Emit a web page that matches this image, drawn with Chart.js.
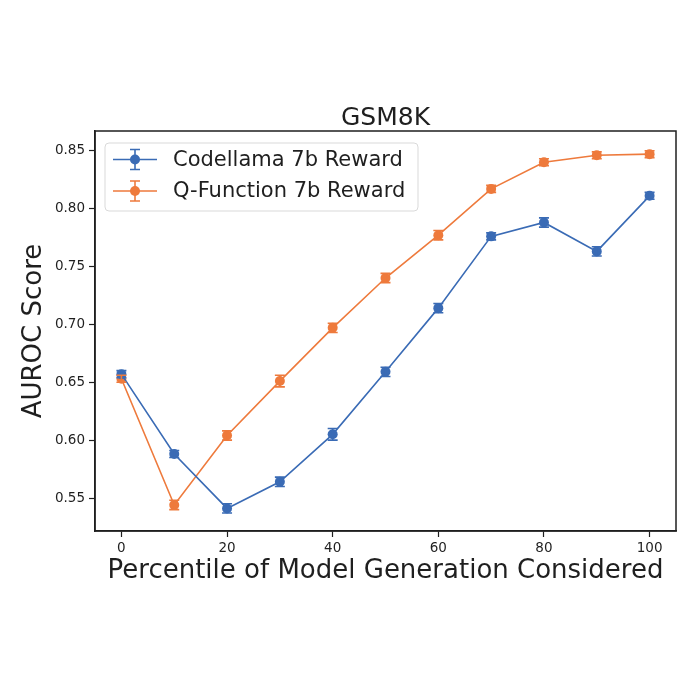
<!DOCTYPE html>
<html>
<head>
<meta charset="utf-8">
<script src="https://cdn.jsdelivr.net/npm/chart.js@4"></script>
<style>
  html, body { margin: 0; padding: 0; background: #fff; }
  #wrap { width: 700px; height: 700px; }
</style>
</head>
<body>
<div id="wrap"><canvas id="chart" width="700" height="700"></canvas></div>
<script>
const percentiles = [0, 10, 20, 30, 40, 50, 60, 70, 80, 90, 100];
const codellamaScores = [0.657, 0.588, 0.541, 0.564, 0.605, 0.659, 0.714, 0.776, 0.788, 0.763, 0.811];
const codellamaErr = [0.003, 0.003, 0.004, 0.004, 0.005, 0.004, 0.004, 0.003, 0.004, 0.004, 0.003];
const qfunctionScores = [0.653, 0.544, 0.604, 0.651, 0.697, 0.740, 0.777, 0.817, 0.840, 0.846, 0.847];
const qfunctionErr = [0.003, 0.004, 0.004, 0.005, 0.004, 0.004, 0.004, 0.003, 0.003, 0.003, 0.003];
const xTicks = [0, 20, 40, 60, 80, 100];
const yTicks = [0.55, 0.60, 0.65, 0.70, 0.75, 0.80, 0.85];
const seriesLabels = ["Codellama 7b Reward", "Q-Function 7b Reward"];
const chartTitle = "GSM8K";

const BLUE = "#3a6bb5";
const ORANGE = "#ee7a3c";
const AXIS = "#1f1f1f";
const FONT = "'DejaVu Sans', sans-serif";

Chart.defaults.font.family = FONT;
Chart.defaults.color = AXIS;

function toPoints(ys) {
   return percentiles.map((x, i) => ({ x: x, y: ys[i] }));
}

// error bars, drawn through the chart scales
const errorBars = {
   id: "errorBars",
   afterDatasetsDraw(chart) {
      const ctx = chart.ctx;
      const xs = chart.scales.x, ys = chart.scales.y;
      chart.data.datasets.forEach(ds => {
         ctx.save();
         ctx.strokeStyle = ds.borderColor;
         ctx.lineWidth = 1.6;
         ds.data.forEach((p, i) => {
            const e = ds.errors[i];
            const px = xs.getPixelForValue(p.x);
            const top = ys.getPixelForValue(p.y + e);
            const bot = ys.getPixelForValue(p.y - e);
            ctx.beginPath();
            ctx.moveTo(px, top); ctx.lineTo(px, bot);
            ctx.moveTo(px - 5, top); ctx.lineTo(px + 5, top);
            ctx.moveTo(px - 5, bot); ctx.lineTo(px + 5, bot);
            ctx.stroke();
         });
         ctx.restore();
      });
   }
};

// box frame, title over the plot, legend inside the plot
const frameAndLegend = {
   id: "frameAndLegend",
   afterDraw(chart) {
      const ctx = chart.ctx;
      const a = chart.chartArea;
      ctx.save();
      ctx.strokeStyle = AXIS;
      ctx.lineWidth = 1.5;
      ctx.strokeRect(a.left, a.top, a.right - a.left, a.bottom - a.top);

      ctx.fillStyle = AXIS;
      ctx.font = "25px " + FONT;
      ctx.textAlign = "center";
      ctx.textBaseline = "alphabetic";
      ctx.fillText(chartTitle, (a.left + a.right) / 2, a.top - 6);
      ctx.textAlign = "left";

      // legend
      const bx = a.left + 10, by = a.top + 12, bw = 313, bh = 68;
      ctx.beginPath();
      ctx.roundRect(bx, by, bw, bh, 4);
      ctx.fillStyle = "rgba(255,255,255,0.85)";
      ctx.fill();
      ctx.strokeStyle = "#d9d9d9";
      ctx.lineWidth = 1;
      ctx.stroke();

      chart.data.datasets.forEach((ds, i) => {
         const cy = by + 16.5 + i * 31.5;
         const x0 = bx + 8, x1 = bx + 52, cx = (x0 + x1) / 2;
         ctx.strokeStyle = ds.borderColor;
         ctx.lineWidth = 1.6;
         ctx.beginPath();
         ctx.moveTo(x0, cy); ctx.lineTo(x1, cy);
         ctx.moveTo(cx, cy - 10); ctx.lineTo(cx, cy + 10);
         ctx.moveTo(cx - 5, cy - 10); ctx.lineTo(cx + 5, cy - 10);
         ctx.moveTo(cx - 5, cy + 10); ctx.lineTo(cx + 5, cy + 10);
         ctx.stroke();
         ctx.fillStyle = ds.borderColor;
         ctx.beginPath();
         ctx.arc(cx, cy, 5, 0, Math.PI * 2);
         ctx.fill();
         ctx.fillStyle = AXIS;
         ctx.font = "21px " + FONT;
         ctx.textBaseline = "middle";
         ctx.fillText(ds.label, bx + 68, cy + 1);
      });
      ctx.restore();
   }
};

const chartData = {
   datasets: [
      {
         label: seriesLabels[0],
         data: toPoints(codellamaScores),
         errors: codellamaErr,
         borderColor: BLUE,
         backgroundColor: BLUE,
         borderWidth: 1.6,
         pointRadius: 5,
         pointHoverRadius: 5,
         pointBorderWidth: 0
      },
      {
         label: seriesLabels[1],
         data: toPoints(qfunctionScores),
         errors: qfunctionErr,
         borderColor: ORANGE,
         backgroundColor: ORANGE,
         borderWidth: 1.6,
         pointRadius: 5,
         pointHoverRadius: 5,
         pointBorderWidth: 0
      }
   ]
};

const config = {
   type: "line",
   data: chartData,
   plugins: [errorBars, frameAndLegend],
   options: {
      responsive: false,
      animation: false,
      layout: { padding: { top: 131, right: 24, bottom: 109, left: 0 } },
      plugins: {
         legend: { display: false },
         tooltip: { enabled: false },
         title: { display: false }
      },
      scales: {
         x: {
            type: "linear",
            min: -5,
            max: 105,
            afterBuildTicks: s => { s.ticks = xTicks.map(v => ({ value: v })); },
            afterFit: s => { s.height = 60; },
            grid: { display: true, drawOnChartArea: false, tickLength: 6, color: AXIS, tickWidth: 1.2 },
            border: { display: true, color: AXIS, width: 1.5 },
            ticks: { font: { size: 13.5 }, color: AXIS, padding: 3, maxRotation: 0 },
            title: {
               display: true,
               text: "Percentile of Model Generation Considered",
               font: { size: 26 },
               color: AXIS,
               padding: { top: 2 }
            }
         },
         y: {
            type: "linear",
            min: 0.5215,
            max: 0.867,
            afterBuildTicks: s => { s.ticks = yTicks.map(v => ({ value: v })); },
            afterFit: s => { s.width = 95; },
            grid: { display: true, drawOnChartArea: false, tickLength: 6, color: AXIS, tickWidth: 1.2 },
            border: { display: true, color: AXIS, width: 1.5 },
            ticks: { font: { size: 13.5 }, color: AXIS, padding: 4, callback: v => v.toFixed(2) },
            title: {
               display: true,
               text: "AUROC Score",
               font: { size: 26 },
               color: AXIS,
               padding: { top: 19, bottom: 4 }
            }
         }
      }
   }
};

new Chart("chart", config);
</script>
</body>
</html>
